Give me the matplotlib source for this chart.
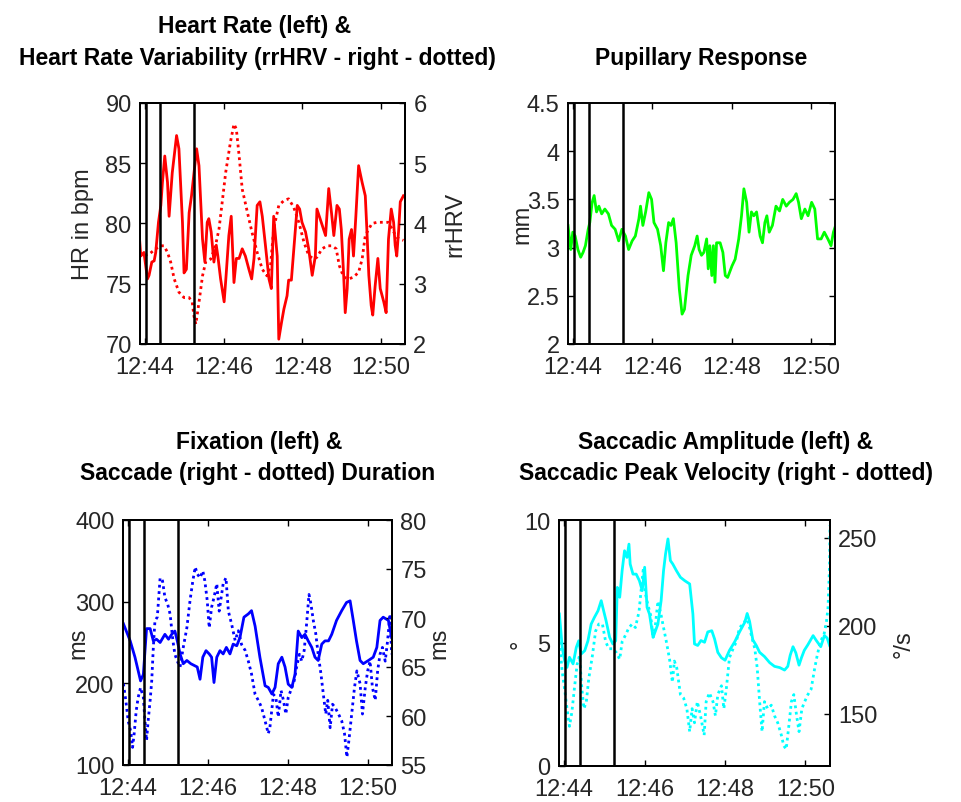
import matplotlib
matplotlib.use("Agg")
import matplotlib.pyplot as plt

plt.rcParams['font.family'] = ['Liberation Sans', 'DejaVu Sans']

# ---------------- data (time in minutes after 12:44) ----------------
time_ticks = [0, 2, 4, 6]
time_labels = ["12:44", "12:46", "12:48", "12:50"]
event_times = [0.01, 0.39, 1.25]

hr_pts = [(-0.15, 79.1), (-0.11, 77.3), (-0.03, 77.6), (0.06, 75.4), (0.10, 75.7), (0.17, 76.8),
          (0.23, 76.9), (0.27, 77.6), (0.34, 80.1), (0.40, 81.5), (0.44, 83.4), (0.50, 85.6),
          (0.57, 83.4), (0.61, 80.6), (0.69, 84.2), (0.80, 87.3), (0.86, 86.2), (0.95, 80.1),
          (0.99, 75.9), (1.05, 76.2), (1.12, 80.9), (1.18, 82.3), (1.31, 86.2), (1.37, 84.8),
          (1.46, 78.7), (1.52, 76.8), (1.58, 80.1), (1.62, 80.4), (1.68, 79.3), (1.75, 76.8),
          (1.81, 78.2), (1.85, 77.3), (1.92, 75.4), (2.01, 73.5), (2.06, 75.7), (2.13, 79.0),
          (2.19, 80.6), (2.26, 75.1), (2.32, 77.1), (2.39, 77.1), (2.47, 77.9), (2.55, 77.3),
          (2.64, 76.2), (2.71, 75.4), (2.77, 77.1), (2.85, 81.5), (2.92, 81.8), (2.98, 80.6),
          (3.06, 78.2), (3.15, 75.4), (3.21, 74.6), (3.27, 80.6), (3.36, 77.3), (3.40, 70.4),
          (3.47, 71.8), (3.53, 72.9), (3.61, 74.0), (3.65, 75.3), (3.72, 75.3), (3.87, 81.5),
          (3.93, 81.2), (3.99, 80.1), (4.08, 79.3), (4.16, 77.9), (4.25, 75.7), (4.33, 77.3),
          (4.37, 81.2), (4.48, 80.1), (4.59, 79.0), (4.67, 82.9), (4.74, 80.9), (4.80, 79.0),
          (4.88, 81.5), (4.94, 81.2), (4.99, 79.5), (5.05, 75.7), (5.09, 72.6), (5.14, 74.6),
          (5.19, 78.7), (5.25, 79.5), (5.30, 77.3), (5.36, 80.6), (5.43, 84.8), (5.52, 83.4),
          (5.60, 82.3), (5.64, 79.5), (5.69, 75.7), (5.75, 73.2), (5.79, 72.4), (5.85, 74.8),
          (5.92, 77.1), (5.98, 74.6), (6.07, 73.5), (6.13, 72.6), (6.19, 78.7), (6.26, 81.2),
          (6.32, 80.1), (6.36, 78.2), (6.40, 77.3), (6.45, 79.5), (6.49, 81.8), (6.57, 82.3)]

hrv_pts = [(-0.15, 3.52), (-0.03, 3.47), (0.10, 3.49), (0.27, 3.58), (0.40, 3.63), (0.48, 3.63),
           (0.57, 3.52), (0.65, 3.36), (0.74, 3.08), (0.86, 2.86), (0.99, 2.77), (1.12, 2.77),
           (1.20, 2.69), (1.24, 2.47), (1.29, 2.33), (1.37, 2.69), (1.46, 3.13), (1.54, 3.36),
           (1.67, 3.41), (1.79, 3.63), (1.88, 3.91), (1.96, 4.35), (2.05, 4.85), (2.17, 5.35),
           (2.26, 5.65), (2.32, 5.57), (2.39, 5.13), (2.47, 4.57), (2.60, 4.19), (2.72, 3.85),
           (2.85, 3.52), (2.98, 3.24), (3.10, 3.13), (3.19, 3.30), (3.27, 3.91), (3.40, 4.30),
           (3.53, 4.38), (3.65, 4.41), (3.78, 4.27), (3.91, 4.02), (4.04, 3.69), (4.16, 3.47),
           (4.29, 3.41), (4.37, 3.44), (4.50, 3.58), (4.63, 3.63), (4.75, 3.63), (4.86, 3.58),
           (4.94, 3.30), (5.05, 3.11), (5.18, 3.08), (5.30, 3.11), (5.43, 3.19), (5.52, 3.41),
           (5.60, 3.80), (5.69, 3.91), (5.77, 4.00), (5.90, 4.02), (6.07, 4.02), (6.19, 4.02),
           (6.28, 3.91), (6.40, 3.77), (6.49, 3.74), (6.57, 3.72)]

pupil_pts = [(-0.13, 3.23), (-0.10, 3.12), (-0.06, 2.98), (-0.01, 3.16), (0.05, 3.12), (0.12, 2.98),
             (0.19, 2.90), (0.25, 2.95), (0.31, 3.02), (0.38, 3.19), (0.42, 3.26), (0.48, 3.47),
             (0.53, 3.54), (0.59, 3.37), (0.65, 3.43), (0.72, 3.35), (0.80, 3.40), (0.89, 3.35),
             (0.97, 3.23), (1.06, 3.19), (1.15, 3.07), (1.23, 3.19), (1.32, 3.12), (1.40, 2.98),
             (1.49, 3.07), (1.57, 3.12), (1.66, 3.30), (1.70, 3.43), (1.76, 3.23), (1.83, 3.37),
             (1.91, 3.57), (1.98, 3.50), (2.04, 3.26), (2.13, 3.19), (2.21, 3.02), (2.28, 2.76),
             (2.34, 3.05), (2.41, 3.26), (2.47, 3.23), (2.53, 3.30), (2.60, 3.05), (2.68, 2.57),
             (2.75, 2.31), (2.81, 2.36), (2.90, 2.71), (2.98, 2.92), (3.07, 3.02), (3.13, 3.12),
             (3.18, 2.98), (3.24, 2.92), (3.30, 2.95), (3.37, 3.09), (3.41, 2.78), (3.45, 3.02),
             (3.50, 2.71), (3.54, 3.02), (3.58, 2.64), (3.62, 3.05), (3.71, 3.05), (3.78, 2.95),
             (3.84, 2.71), (3.90, 2.69), (4.01, 2.81), (4.09, 2.88), (4.18, 3.09), (4.25, 3.33),
             (4.31, 3.61), (4.38, 3.47), (4.44, 3.16), (4.50, 3.37), (4.56, 3.33), (4.63, 3.37),
             (4.72, 3.12), (4.78, 3.05), (4.84, 3.26), (4.89, 3.33), (4.95, 3.16), (5.03, 3.23),
             (5.12, 3.43), (5.21, 3.38), (5.29, 3.50), (5.38, 3.43), (5.46, 3.47), (5.55, 3.50),
             (5.63, 3.56), (5.69, 3.47), (5.76, 3.30), (5.85, 3.40), (5.93, 3.33), (6.02, 3.47),
             (6.10, 3.40), (6.17, 3.09), (6.26, 3.09), (6.34, 3.16), (6.43, 3.09), (6.51, 3.02),
             (6.57, 3.16), (6.61, 3.21)]

fix_pts = [(-0.12, 273), (0.05, 252), (0.17, 232), (0.31, 203), (0.38, 211), (0.46, 267), (0.55, 267),
           (0.63, 252), (0.71, 254), (0.80, 250), (0.92, 260), (1.01, 254), (1.09, 260), (1.17, 264),
           (1.23, 252), (1.30, 236), (1.38, 224), (1.47, 228), (1.57, 224), (1.65, 222), (1.73, 220),
           (1.80, 205), (1.87, 232), (1.95, 240), (2.03, 236), (2.09, 232), (2.15, 201), (2.22, 232),
           (2.30, 240), (2.38, 236), (2.46, 244), (2.55, 236), (2.63, 248), (2.72, 246), (2.80, 256),
           (2.90, 281), (3.01, 285), (3.09, 289), (3.18, 270), (3.30, 232), (3.43, 197), (3.51, 195),
           (3.60, 187), (3.68, 195), (3.76, 224), (3.85, 232), (3.93, 220), (4.01, 199), (4.10, 195),
           (4.18, 211), (4.26, 264), (4.35, 256), (4.43, 260), (4.51, 252), (4.60, 244), (4.68, 232),
           (4.76, 228), (4.85, 248), (4.93, 252), (5.02, 252), (5.10, 260), (5.22, 277), (5.35, 289),
           (5.47, 299), (5.56, 301), (5.64, 277), (5.72, 252), (5.81, 228), (5.89, 224), (6.02, 228),
           (6.14, 232), (6.23, 244), (6.31, 277), (6.39, 281), (6.52, 277), (6.60, 256)]

sacdur_pts = [(-0.12, 63.3), (-0.06, 61.6), (0.00, 59.5), (0.06, 58.5), (0.11, 56.8), (0.15, 58.2),
              (0.20, 60.5), (0.25, 61.9), (0.31, 62.9), (0.38, 61.9), (0.42, 59.5), (0.46, 57.5),
              (0.50, 59.5), (0.55, 61.6), (0.59, 63.6), (0.63, 67.0), (0.67, 69.7), (0.73, 70.1),
              (0.80, 74.1), (0.86, 73.8), (0.92, 72.1), (0.99, 71.4), (1.05, 70.4), (1.12, 67.7),
              (1.17, 66.3), (1.23, 65.6), (1.30, 65.0), (1.38, 67.0), (1.47, 69.0), (1.55, 71.8),
              (1.62, 73.8), (1.68, 75.2), (1.73, 74.5), (1.80, 74.1), (1.87, 74.8), (1.92, 73.8),
              (1.98, 71.8), (2.03, 69.0), (2.09, 71.1), (2.15, 72.1), (2.22, 73.5), (2.28, 70.7),
              (2.33, 72.1), (2.38, 73.5), (2.45, 74.1), (2.51, 70.7), (2.59, 69.4), (2.68, 67.7),
              (2.76, 68.7), (2.84, 67.3), (2.93, 66.7), (3.01, 65.6), (3.09, 64.3), (3.18, 62.2),
              (3.26, 61.6), (3.34, 60.9), (3.43, 59.5), (3.51, 58.2), (3.55, 58.8), (3.64, 62.2),
              (3.70, 61.9), (3.76, 59.9), (3.83, 62.6), (3.89, 61.6), (3.95, 60.2), (4.01, 61.9),
              (4.10, 62.9), (4.16, 63.6), (4.22, 65.0), (4.29, 66.3), (4.35, 65.6), (4.41, 66.7),
              (4.47, 69.4), (4.53, 72.4), (4.58, 71.4), (4.64, 69.7), (4.70, 68.4), (4.76, 66.3),
              (4.83, 64.3), (4.89, 62.2), (4.95, 60.2), (5.00, 61.6), (5.06, 58.8), (5.12, 61.2),
              (5.18, 60.9), (5.27, 60.2), (5.35, 59.5), (5.42, 58.2), (5.48, 55.8), (5.53, 57.5),
              (5.60, 60.2), (5.67, 62.9), (5.73, 64.6), (5.81, 63.3), (5.87, 60.2), (5.94, 62.9),
              (6.00, 64.6), (6.06, 65.6), (6.12, 62.9), (6.19, 61.6), (6.25, 64.6), (6.31, 66.3),
              (6.37, 67.0), (6.44, 65.6), (6.50, 67.7), (6.56, 70.4), (6.60, 66.3)]

amp_pts = [(-0.12, 6.18), (-0.05, 4.82), (0.01, 4.28), (0.07, 4.01), (0.13, 4.42), (0.22, 4.15),
           (0.30, 4.82), (0.36, 5.09), (0.42, 4.55), (0.51, 4.69), (0.59, 5.09), (0.67, 5.77),
           (0.75, 6.04), (0.84, 6.31), (0.92, 6.72), (0.98, 6.31), (1.04, 5.91), (1.13, 5.23),
           (1.21, 4.96), (1.28, 5.09), (1.32, 7.26), (1.38, 6.86), (1.44, 7.94), (1.50, 8.75),
           (1.56, 8.48), (1.61, 9.02), (1.64, 8.21), (1.71, 7.80), (1.79, 7.80), (1.87, 7.53),
           (1.94, 7.13), (2.00, 8.08), (2.06, 6.45), (2.12, 6.18), (2.21, 5.23), (2.27, 5.50),
           (2.33, 5.77), (2.41, 6.72), (2.47, 7.94), (2.52, 8.62), (2.58, 9.23), (2.64, 8.35),
           (2.70, 8.21), (2.79, 7.94), (2.89, 7.67), (3.00, 7.53), (3.12, 7.40), (3.20, 6.18),
           (3.24, 4.96), (3.32, 4.90), (3.40, 5.10), (3.49, 5.03), (3.57, 5.45), (3.67, 5.50),
           (3.74, 5.16), (3.82, 4.62), (3.91, 4.40), (4.00, 4.30), (4.11, 4.70), (4.24, 5.05),
           (4.36, 5.45), (4.49, 5.84), (4.55, 6.20), (4.61, 5.88), (4.69, 5.13), (4.78, 4.89),
           (4.86, 4.62), (4.98, 4.45), (5.11, 4.20), (5.23, 4.05), (5.36, 4.00), (5.48, 3.90),
           (5.56, 4.05), (5.62, 4.50), (5.69, 4.85), (5.76, 4.60), (5.84, 4.10), (5.90, 4.40),
           (5.97, 4.70), (6.06, 4.93), (6.19, 5.30), (6.27, 5.10), (6.38, 4.85), (6.47, 5.30),
           (6.54, 5.20), (6.60, 4.90)]

vel_pts = [(-0.12, 191), (-0.05, 174), (0.01, 164), (0.07, 153), (0.13, 143), (0.19, 151), (0.26, 166),
           (0.32, 178), (0.38, 183), (0.44, 164), (0.49, 153), (0.55, 157), (0.61, 170), (0.70, 183),
           (0.78, 197), (0.86, 201), (0.95, 201), (1.03, 191), (1.11, 187), (1.21, 187), (1.29, 185),
           (1.38, 181), (1.44, 191), (1.53, 195), (1.61, 199), (1.69, 201), (1.77, 199), (1.86, 208),
           (1.92, 222), (1.97, 233), (2.02, 218), (2.08, 212), (2.15, 206), (2.21, 193), (2.27, 201),
           (2.33, 214), (2.41, 206), (2.47, 199), (2.54, 191), (2.62, 181), (2.69, 168), (2.74, 180),
           (2.80, 176), (2.89, 161), (2.97, 159), (3.05, 153), (3.12, 140), (3.18, 153), (3.24, 145),
           (3.31, 157), (3.39, 149), (3.48, 138), (3.53, 157), (3.61, 162), (3.70, 157), (3.76, 149),
           (3.82, 161), (3.91, 166), (3.97, 153), (4.03, 164), (4.11, 182), (4.20, 187), (4.28, 191),
           (4.36, 199), (4.45, 201), (4.53, 204), (4.59, 201), (4.65, 195), (4.74, 187), (4.80, 176),
           (4.86, 157), (4.92, 140), (4.98, 157), (5.06, 153), (5.15, 155), (5.23, 149), (5.31, 145),
           (5.40, 138), (5.46, 132), (5.52, 130), (5.58, 142), (5.65, 157), (5.71, 161), (5.78, 149),
           (5.84, 140), (5.91, 153), (5.98, 157), (6.06, 161), (6.14, 164), (6.23, 176), (6.29, 183),
           (6.37, 191), (6.46, 195), (6.52, 202), (6.56, 210), (6.60, 235), (6.61, 257)]

# ---------------- layout / style ----------------
W, H = 962, 803
fig = plt.figure(figsize=(W / 100, H / 100), dpi=100)
XLIM = (-0.13, 6.61)
TICK_FS = 17
TITLE_FS = 16.5
TXT = '#262626'
DOT = (0, (1, 1.3))


def px_axes(l, t, r, b):
    return fig.add_axes([l / W, 1 - b / H, (r - l) / W, (b - t) / H])


def unzip(pts):
    return [p[0] for p in pts], [p[1] for p in pts]


def base_style(ax, right_ticks=True):
    ax.set_xlim(*XLIM)
    ax.set_xticks(time_ticks, time_labels)
    ax.tick_params(axis='both', direction='in', length=4, width=1.0, labelsize=TICK_FS,
                   labelcolor=TXT, top=True, right=right_ticks)
    ax.tick_params(axis='x', pad=9)
    ax.tick_params(axis='y', pad=6)
    for s in ax.spines.values():
        s.set_linewidth(1.4)
        s.set_color('k')


def twin_style(ax2):
    ax2.tick_params(axis='y', direction='in', length=4, width=1.0, labelsize=TICK_FS,
                    labelcolor=TXT, pad=6)
    for s in ax2.spines.values():
        s.set_linewidth(1.4)
        s.set_color('k')


def events(ax):
    for t in event_times:
        ax.axvline(t, color='k', lw=1.8, zorder=5)


def title(lines, centers, baselines):
    for txt, cx, by in zip(lines, centers, baselines):
        fig.text(cx / W, 1 - by / H, txt, ha='center', va='baseline',
                 fontsize=TITLE_FS, fontweight='bold', color='k')


def ylab(ax, text, xfrac):
    ax.set_ylabel(text, fontsize=TICK_FS, color=TXT, va='center')
    ax.yaxis.set_label_coords(xfrac, 0.5)


# Panel 1: heart rate / HRV
ax1 = px_axes(140, 104, 405, 345)
base_style(ax1, right_ticks=False)
t, v = unzip(hr_pts)
ax1.plot(t, v, color='#ff0000', lw=2)
ax1.set_ylim(70, 90)
ax1.set_yticks([70, 75, 80, 85, 90])
ylab(ax1, 'HR in bpm', -0.215)
ax1b = ax1.twinx()
t, v = unzip(hrv_pts)
ax1b.plot(t, v, color='#ff0000', lw=2, linestyle=DOT)
ax1b.set_ylim(2, 6)
ax1b.set_yticks([2, 3, 4, 5, 6])
twin_style(ax1b)
ylab(ax1b, 'rrHRV', 1.19)
events(ax1b)
title(['Heart Rate (left) &', 'Heart Rate Variability (rrHRV - right - dotted)'], [255, 257], [33, 65])

# Panel 2: pupil
ax2 = px_axes(568, 104, 835, 345)
base_style(ax2, right_ticks=True)
t, v = unzip(pupil_pts)
ax2.plot(t, v, color='#00ff00', lw=2)
ax2.set_ylim(2, 4.5)
ax2.set_yticks([2, 2.5, 3, 3.5, 4, 4.5], ['2', '2.5', '3', '3.5', '4', '4.5'])
ylab(ax2, 'mm', -0.17)
events(ax2)
title(['Pupillary Response'], [701], [65])

# Panel 3: fixation / saccade duration
ax3 = px_axes(123, 521, 392, 766)
base_style(ax3, right_ticks=False)
t, v = unzip(fix_pts)
ax3.plot(t, v, color='#0000ff', lw=2)
ax3.set_ylim(100, 400)
ax3.set_yticks([100, 200, 300, 400])
ylab(ax3, 'ms', -0.167)
ax3b = ax3.twinx()
t, v = unzip(sacdur_pts)
ax3b.plot(t, v, color='#0000ff', lw=2, linestyle=DOT)
ax3b.set_ylim(55, 80)
ax3b.set_yticks([55, 60, 65, 70, 75, 80])
twin_style(ax3b)
ylab(ax3b, 'ms', 1.178)
events(ax3b)
title(['Fixation (left) &', 'Saccade (right - dotted) Duration'], [259.5, 258], [449, 480])

# Panel 4: saccadic amplitude / peak velocity
ax4 = px_axes(559, 521, 830, 767)
base_style(ax4, right_ticks=False)
t, v = unzip(amp_pts)
ax4.plot(t, v, color='#00ffff', lw=2)
ax4.set_ylim(0, 10)
ax4.set_yticks([0, 5, 10])
ylab(ax4, '°', -0.14)
ax4b = ax4.twinx()
t, v = unzip(vel_pts)
ax4b.plot(t, v, color='#00ffff', lw=2, linestyle=DOT)
ax4b.set_ylim(120.5, 260)
ax4b.set_yticks([150, 200, 250])
twin_style(ax4b)
ylab(ax4b, '°/s', 1.27)
events(ax4b)
title(['Saccadic Amplitude (left) &', 'Saccadic Peak Velocity (right - dotted)'], [726, 726.5], [449, 480])

fig.savefig('out.png', dpi=100)
